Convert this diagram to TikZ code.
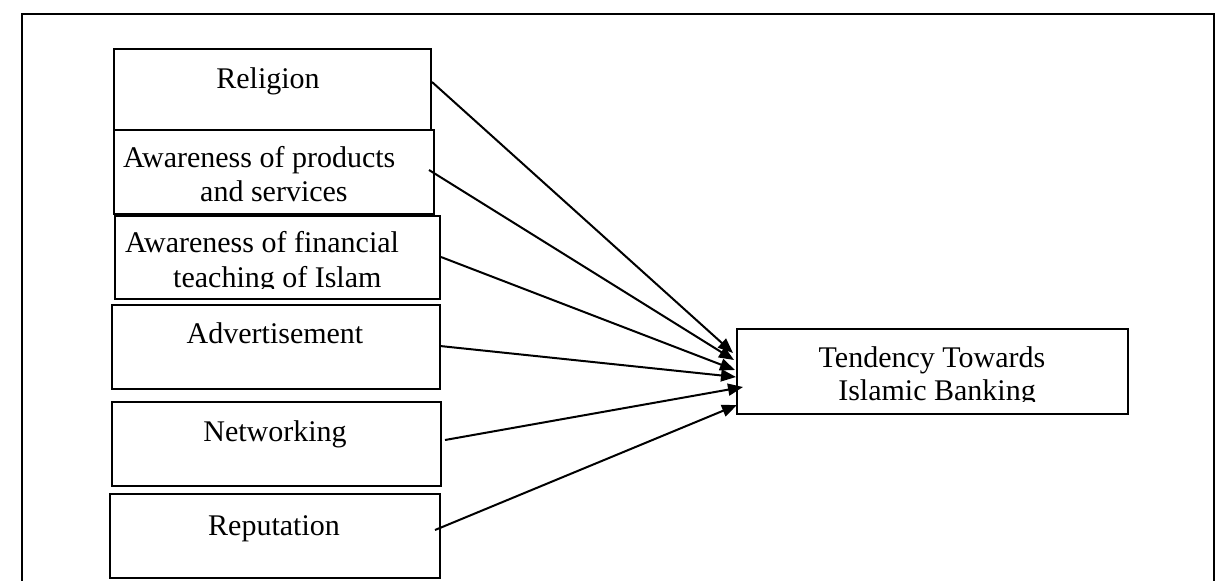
\documentclass[tikz,border=0pt]{standalone}
\usepackage{fontspec}
\setmainfont{Liberation Serif}
\usetikzlibrary{arrows.meta}
\begin{document}
\begin{tikzpicture}[x=1pt,y=-1pt,
  box/.style={draw, line width=2.2pt, anchor=north west, inner sep=0pt},
  lbl/.style={anchor=base, inner sep=0pt, font=\fontsize{30}{33}\selectfont},
  lblw/.style={lbl, anchor=base west},
  arr/.style={line width=2pt, -{Triangle[length=15pt,width=12pt]}}]
\useasboundingbox (0,0) rectangle (1221,581);
\draw[line width=2.6pt] (22,581) -- (22,14) -- (1214,14) -- (1214,581);
% factor boxes
\node[box, minimum width=317pt, minimum height=81pt] (b1) at (113,48) {};
\node[box, minimum width=320pt, minimum height=84pt] (b2) at (113,129) {};
\node[box, minimum width=325pt, minimum height=83pt] (b3) at (114,215) {};
\node[box, minimum width=328pt, minimum height=84pt] (b4) at (111,304) {};
\node[box, minimum width=329pt, minimum height=84pt] (b5) at (111,401) {};
\node[box, minimum width=330pt, minimum height=84pt] (b6) at (109,493) {};
\node[box, minimum width=391pt, minimum height=85pt] (t) at (736,328) {};
% labels
\node[lbl] (l1) at (268,88) {Religion};
\node[lblw] (l2a) at (123,167) {Awareness of products};
\node[lblw] (l2b) at (200,201) {and services};
\node[lblw] (l3a) at (125,252) {Awareness of financial};
\begin{scope}
\clip (114,215) rectangle (439,288);
\node[lblw] (l3b) at (173,287) {teaching of Islam};
\end{scope}
\node[lbl] (l4) at (275,343) {Advertisement};
\node[lbl] (l5) at (275,441) {Networking};
\node[lbl] (l6) at (274,535) {Reputation};
\node[lbl] (lt1) at (932,367) {Tendency Towards};
\begin{scope}
\clip (736,328) rectangle (1127,401);
\node[lbl] (lt2) at (937,400) {Islamic Banking};
\end{scope}
% arrow end points
\coordinate (s1) at (432,82);  \coordinate (e1) at (733,353);
\coordinate (s2) at (429,170); \coordinate (e2) at (734,360);
\coordinate (s3) at (441,257); \coordinate (e3) at (735,370);
\coordinate (s4) at (440,346); \coordinate (e4) at (736,377);
\coordinate (s5) at (445,440); \coordinate (e5) at (743,387);
\coordinate (s6) at (435,530); \coordinate (e6) at (737,405);
\draw[arr] (s1) -- (e1);
\draw[arr] (s2) -- (e2);
\draw[arr] (s3) -- (e3);
\draw[arr] (s4) -- (e4);
\draw[arr] (s5) -- (e5);
\draw[arr] (s6) -- (e6);
\end{tikzpicture}
\end{document}
